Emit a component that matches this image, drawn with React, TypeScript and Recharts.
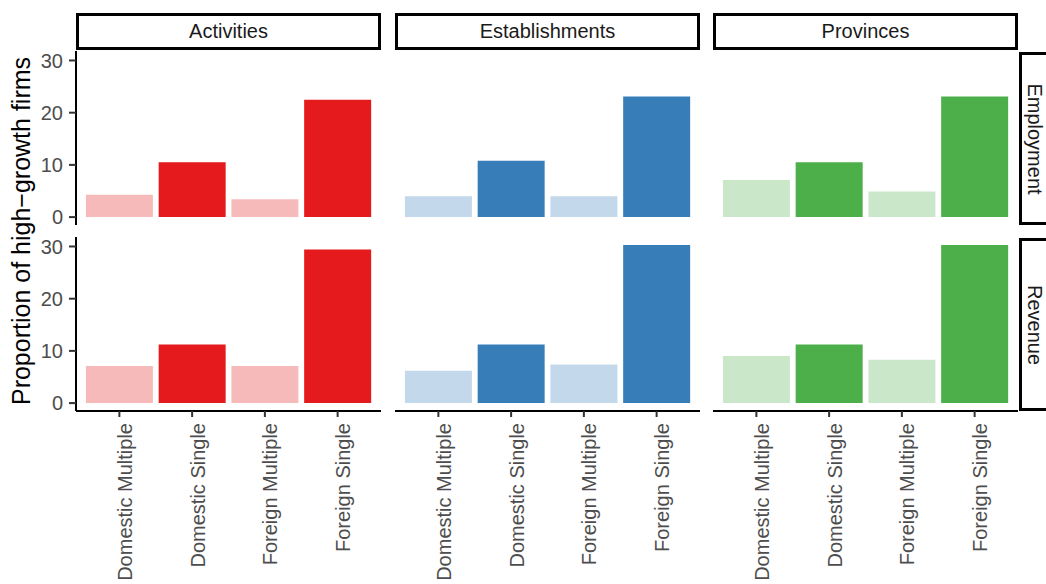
import React from 'react'
import { BarChart, Bar, XAxis, YAxis, Cell } from 'recharts'

const categories = ['Domestic Multiple', 'Domestic Single', 'Foreign Multiple', 'Foreign Single']
const measures = ['Employment', 'Revenue']
const groups = ['Activities', 'Establishments', 'Provinces']

const activitiesEmployment = [4.3, 10.5, 3.4, 22.5]
const activitiesRevenue = [7.1, 11.2, 7.1, 29.4]
const establishmentsEmployment = [4.0, 10.8, 4.0, 23.1]
const establishmentsRevenue = [6.2, 11.2, 7.4, 30.3]
const provincesEmployment = [7.1, 10.5, 4.9, 23.1]
const provincesRevenue = [9.0, 11.2, 8.3, 30.3]

const yTicks = [0, 10, 20, 30]

const values: number[][][] = [
  [activitiesEmployment, activitiesRevenue],
  [establishmentsEmployment, establishmentsRevenue],
  [provincesEmployment, provincesRevenue],
]

// dark colour for Single, light (30% alpha look) for Multiple
const palette = [
  { single: '#E41A1C', multiple: '#F7BABB' },
  { single: '#377EB8', multiple: '#C3D8EA' },
  { single: '#4DAF4A', multiple: '#CAE7C9' },
]

const FONT = '"Liberation Sans", Arial, Helvetica, sans-serif'
const colX = [76, 395, 713]
const rowY = [51, 237]
const PW = 305
const PH = 174
const Y_DOMAIN: [number, number] = [-1.515, 31.815]

const XTick = (props: any) => {
  const { x, y, payload } = props
  const bx = x + 12.5
  return (
    <text
      x={bx}
      y={y}
      transform={`rotate(-90, ${bx}, ${y})`}
      textAnchor="end"
      fill="#4D4D4D"
      fontSize={20}
      fontFamily={FONT}
    >
      {payload.value}
    </text>
  )
}

const Panel: React.FC<{ col: number; row: number }> = ({ col, row }) => {
  const data = categories.map((c, i) => ({ cat: c, value: values[col][row][i] }))
  const showY = col === 0
  const showX = row === 1
  const left = showY ? 0 : colX[col]
  const width = showY ? colX[col] + PW : PW
  // top row gets a little spare room below so the "0" label is not clipped
  const extra = showX ? 0 : 14
  const height = showX ? 584 - rowY[row] : PH + extra
  return (
    <div style={{ position: 'absolute', left, top: rowY[row] }}>
      <BarChart
        width={width}
        height={height}
        data={data}
        margin={{ top: 0, right: 0, bottom: extra, left: 0 }}
        barCategoryGap="4%"
      >
        <XAxis
          dataKey="cat"
          hide={!showX}
          height={showX ? 584 - rowY[row] - PH : 0}
          padding={{ left: 7, right: 7 }}
          axisLine={{ stroke: '#000', strokeWidth: 2 }}
          tickLine={{ stroke: '#333', strokeWidth: 2 }}
          tickSize={6}
          tickMargin={6}
          interval={0}
          tick={<XTick />}
        />
        <YAxis
          hide={!showY}
          width={showY ? colX[0] : 0}
          domain={Y_DOMAIN}
          allowDataOverflow
          ticks={yTicks}
          interval={0}
          axisLine={{ stroke: '#000', strokeWidth: 2 }}
          tickLine={{ stroke: '#333', strokeWidth: 2 }}
          tickSize={7}
          tickMargin={6}
          tick={{ fill: '#4D4D4D', fontSize: 20, fontFamily: FONT }}
        />
        <Bar dataKey="value" isAnimationActive={false}>
          {data.map((d, i) => (
            <Cell key={d.cat} fill={i % 2 === 0 ? palette[col].multiple : palette[col].single} />
          ))}
        </Bar>
      </BarChart>
    </div>
  )
}

const App: React.FC = () => {
  return (
    <div
      style={{
        position: 'absolute',
        left: 0,
        top: 0,
        width: 1046,
        height: 584,
        overflow: 'hidden',
        background: '#fff',
        fontFamily: FONT,
      }}
    >
      {groups.map((g, c) => (
        <div
          key={g}
          style={{
            position: 'absolute',
            left: colX[c],
            top: 13,
            width: PW,
            height: 37,
            boxSizing: 'border-box',
            border: '3px solid #000',
            display: 'flex',
            alignItems: 'center',
            justifyContent: 'center',
            fontSize: 20,
            color: '#1A1A1A',
          }}
        >
          {g}
        </div>
      ))}
      {measures.map((m, r) => (
        <div
          key={m}
          style={{
            position: 'absolute',
            left: 1019,
            top: rowY[r] + 1,
            width: 40,
            height: PH - 1,
            boxSizing: 'border-box',
            border: '3px solid #000',
          }}
        >
          <div
            style={{
              position: 'absolute',
              left: 13,
              top: (PH - 1) / 2 - 3,
              transform: 'translate(-50%, -50%) rotate(90deg)',
              fontSize: 20,
              lineHeight: '20px',
              color: '#1A1A1A',
              whiteSpace: 'nowrap',
            }}
          >
            {m}
          </div>
        </div>
      ))}
      {groups.map((g, c) =>
        measures.map((m, r) => <Panel key={g + m} col={c} row={r} />)
      )}
      <div
        style={{
          position: 'absolute',
          left: 21,
          top: 231,
          transform: 'translate(-50%, -50%) rotate(-90deg)',
          fontSize: 25,
          color: '#000',
          whiteSpace: 'nowrap',
        }}
      >
        Proportion of high−growth firms
      </div>
    </div>
  )
}

export default App
